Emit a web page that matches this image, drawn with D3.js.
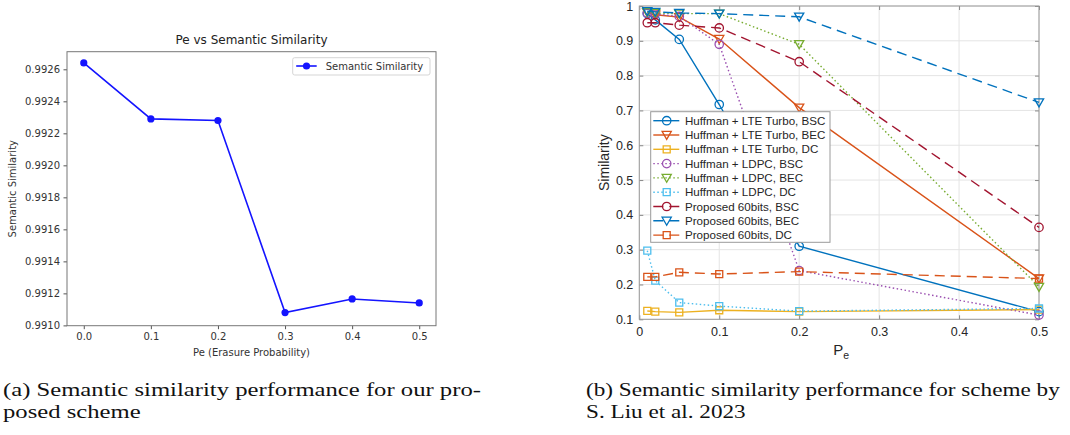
<!DOCTYPE html>
<html>
<head>
<meta charset="utf-8">
<script src="https://cdn.jsdelivr.net/npm/d3@7"></script>
<style>
  body { margin: 0; background: #fff; }
  svg { display: block; }
</style>
</head>
<body>
<svg width="1070" height="435"></svg>
<script>
// ---- (a) our proposed scheme ----
var peA = [0.0, 0.1, 0.2, 0.3, 0.4, 0.5];
var simA = [0.99264, 0.99229, 0.99228, 0.99108, 0.991165, 0.99114];
var xTicksA = [0.0, 0.1, 0.2, 0.3, 0.4, 0.5];
var yTicksA = [0.9910, 0.9912, 0.9914, 0.9916, 0.9918, 0.9920, 0.9922, 0.9924, 0.9926];

// ---- (b) scheme by S. Liu et al. ----
var peB = [0.01, 0.02, 0.05, 0.1, 0.2, 0.5];
var turboBSC = [0.978, 0.960, 0.904, 0.717, 0.310, 0.122];
var turboBEC = [0.982, 0.975, 0.968, 0.905, 0.708, 0.217];
var turboDC  = [0.124, 0.122, 0.120, 0.126, 0.122, 0.128];
var ldpcBSC  = [0.980, 0.977, 0.970, 0.890, 0.240, 0.112];
var ldpcBEC  = [0.982, 0.980, 0.978, 0.978, 0.890, 0.193];
var ldpcDC   = [0.297, 0.211, 0.148, 0.138, 0.1235, 0.131];
var propBSC  = [0.952, 0.952, 0.945, 0.937, 0.840, 0.364];
var propBEC  = [0.985, 0.983, 0.980, 0.978, 0.969, 0.723];
var propDC   = [0.222, 0.222, 0.235, 0.230, 0.237, 0.217];
var seriesNames = ["Huffman + LTE Turbo, BSC", "Huffman + LTE Turbo, BEC", "Huffman + LTE Turbo, DC",
                   "Huffman + LDPC, BSC", "Huffman + LDPC, BEC", "Huffman + LDPC, DC",
                   "Proposed 60bits, BSC", "Proposed 60bits, BEC", "Proposed 60bits, DC"];
var xTicksB = [0, 0.1, 0.2, 0.3, 0.4, 0.5];
var yTicksB = [0.1, 0.2, 0.3, 0.4, 0.5, 0.6, 0.7, 0.8, 0.9, 1];

var captionA = ["(a) Semantic similarity performance for our pro-", "posed scheme"];
var captionB = ["(b) Semantic similarity performance for scheme by", "S. Liu et al. 2023"];

var svg = d3.select("svg");

/* ================= chart (a), matplotlib look ================= */
var fontA = "DejaVu Sans, sans-serif";
var xA = d3.scaleLinear().domain([-0.025, 0.525]).range([67, 436]);
var yA = d3.scaleLinear().domain([0.990998, 0.99271]).range([325.7, 51.7]);
var gA = svg.append("g");

gA.append("g")
    .attr("transform", "translate(0," + yA.range()[0] + ")")
    .call(d3.axisBottom(xA).tickValues(xTicksA).tickFormat(d3.format(".1f")).tickSizeInner(3.5).tickSizeOuter(0).tickPadding(3.5))
    .call(styleAxisA);

gA.append("g")
    .attr("transform", "translate(" + xA.range()[0] + ",0)")
    .call(d3.axisLeft(yA).tickValues(yTicksA).tickFormat(d3.format(".4f")).tickSizeInner(3.5).tickSizeOuter(0).tickPadding(3.5))
    .call(styleAxisA);

function styleAxisA(sel) {
  sel.select(".domain").remove();
  sel.selectAll(".tick line").attr("stroke", "#555");
  sel.selectAll(".tick text").attr("fill", "#333").attr("font-family", fontA).attr("font-size", 10);
}

// frame
gA.append("rect")
    .attr("x", xA.range()[0]).attr("y", yA.range()[1])
    .attr("width", xA.range()[1] - xA.range()[0]).attr("height", yA.range()[0] - yA.range()[1])
    .attr("fill", "none").attr("stroke", "#777").attr("stroke-width", 1);

var lineA = d3.line()
    .x(function(d, i) { return xA(peA[i]); })
    .y(function(d) { return yA(d); });

gA.append("path")
    .datum(simA)
    .attr("fill", "none").attr("stroke", "#1414ff").attr("stroke-width", 1.6)
    .attr("d", lineA);

gA.selectAll(".dotA")
    .data(simA)
  .enter().append("circle")
    .attr("class", "dotA")
    .attr("r", 3.6)
    .attr("cx", function(d, i) { return xA(peA[i]); })
    .attr("cy", function(d) { return yA(d); })
    .attr("fill", "#1414ff");

gA.append("text")
    .attr("x", (xA.range()[0] + xA.range()[1]) / 2).attr("y", 44)
    .attr("text-anchor", "middle").attr("font-family", fontA).attr("font-size", 12).attr("fill", "#222")
    .text("Pe vs Semantic Similarity");

gA.append("text")
    .attr("x", (xA.range()[0] + xA.range()[1]) / 2).attr("y", 355.5)
    .attr("text-anchor", "middle").attr("font-family", fontA).attr("font-size", 10).attr("fill", "#333")
    .text("Pe (Erasure Probability)");

gA.append("text")
    .attr("transform", "translate(16.3," + (yA.range()[0] + yA.range()[1]) / 2 + ") rotate(-90)")
    .attr("text-anchor", "middle").attr("font-family", fontA).attr("font-size", 10).attr("fill", "#333")
    .text("Semantic Similarity");

// legend (a)
var legA = gA.append("g").attr("transform", "translate(292.7,57.7)");
legA.append("rect").attr("width", 137.3).attr("height", 17.3).attr("rx", 2)
    .attr("fill", "#fff").attr("stroke", "#d5d5d5");
legA.append("line").attr("x1", 3.5).attr("x2", 24).attr("y1", 8.3).attr("y2", 8.3)
    .attr("stroke", "#1414ff").attr("stroke-width", 1.6);
legA.append("circle").attr("cx", 13.8).attr("cy", 8.3).attr("r", 3.6).attr("fill", "#1414ff");
legA.append("text").attr("x", 33).attr("y", 12)
    .attr("font-family", fontA).attr("font-size", 10).attr("fill", "#333")
    .text("Semantic Similarity");

/* ================= chart (b), MATLAB look ================= */
var fontB = "Liberation Sans, Arial, Helvetica, sans-serif";
var xB = d3.scaleLinear().domain([0, 0.5]).range([639.3, 1039]);
var yB = d3.scaleLinear().domain([0.1, 1]).range([319.3, 6]);
var gB = svg.append("g");

// grid
gB.append("g").selectAll("line").data(xTicksB).enter().append("line")
    .attr("x1", function(d) { return xB(d); }).attr("x2", function(d) { return xB(d); })
    .attr("y1", yB.range()[0]).attr("y2", yB.range()[1])
    .attr("stroke", "#e4e4e4");
gB.append("g").selectAll("line").data(yTicksB).enter().append("line")
    .attr("y1", function(d) { return yB(d); }).attr("y2", function(d) { return yB(d); })
    .attr("x1", xB.range()[0]).attr("x2", xB.range()[1])
    .attr("stroke", "#e4e4e4");

function styleAxisB(sel) {
  sel.select(".domain").remove();
  sel.selectAll(".tick line").attr("stroke", "#888");
  sel.selectAll(".tick text").attr("fill", "#262626").attr("font-family", fontB).attr("font-size", 12.5);
}
var fmtB = function(d) { return String(d); };

gB.append("g")
    .attr("transform", "translate(0," + yB.range()[0] + ")")
    .call(d3.axisBottom(xB).tickValues(xTicksB).tickFormat(fmtB).tickSizeInner(-4).tickSizeOuter(0).tickPadding(7.5))
    .call(styleAxisB);
gB.append("g")
    .attr("transform", "translate(0," + yB.range()[1] + ")")
    .call(d3.axisTop(xB).tickValues(xTicksB).tickFormat("").tickSizeInner(-4).tickSizeOuter(0))
    .call(styleAxisB);
gB.append("g")
    .attr("transform", "translate(" + xB.range()[0] + ",0)")
    .call(d3.axisLeft(yB).tickValues(yTicksB).tickFormat(fmtB).tickSizeInner(-4).tickSizeOuter(0).tickPadding(6))
    .call(styleAxisB);
gB.append("g")
    .attr("transform", "translate(" + xB.range()[1] + ",0)")
    .call(d3.axisRight(yB).tickValues(yTicksB).tickFormat("").tickSizeInner(-4).tickSizeOuter(0))
    .call(styleAxisB);

gB.append("rect")
    .attr("x", xB.range()[0]).attr("y", yB.range()[1])
    .attr("width", xB.range()[1] - xB.range()[0]).attr("height", yB.range()[0] - yB.range()[1])
    .attr("fill", "none").attr("stroke", "#9a9a9a");

var seriesB = [turboBSC, turboBEC, turboDC, ldpcBSC, ldpcBEC, ldpcDC, propBSC, propBEC, propDC];
var stylesB = [
  { color: "#0072BD", dash: null, marker: "circle" },
  { color: "#D95319", dash: null, marker: "triangle" },
  { color: "#EDB120", dash: null, marker: "square" },
  { color: "#9a4fb0", dash: "1.5,2.5", marker: "circle" },
  { color: "#77AC30", dash: "1.5,2.5", marker: "triangle" },
  { color: "#4DBEEE", dash: "1.5,2.5", marker: "square" },
  { color: "#A2142F", dash: "10,6", marker: "circle" },
  { color: "#0072BD", dash: "10,6", marker: "triangle" },
  { color: "#D95319", dash: "10,6", marker: "square" }
];

function markerPath(type) {
  if (type === "circle") return "M4.2,0A4.2,4.2 0 1,1 -4.2,0A4.2,4.2 0 1,1 4.2,0Z";
  if (type === "triangle") return "M-4.6,-3.6L4.6,-3.6L0,4.4Z";
  return "M-3.5,-3.5L3.5,-3.5L3.5,3.5L-3.5,3.5Z";
}

var lineB = d3.line()
    .x(function(d, i) { return xB(peB[i]); })
    .y(function(d) { return yB(d); });

seriesB.forEach(function(vals, k) {
  var st = stylesB[k];
  var s = gB.append("g");
  s.append("path")
      .datum(vals)
      .attr("fill", "none").attr("stroke", st.color).attr("stroke-width", 1.4)
      .attr("stroke-dasharray", st.dash)
      .attr("d", lineB);
  s.selectAll(".mk")
      .data(vals)
    .enter().append("path")
      .attr("class", "mk")
      .attr("transform", function(d, i) { return "translate(" + xB(peB[i]) + "," + yB(d) + ")"; })
      .attr("d", markerPath(st.marker))
      .attr("fill", "none").attr("stroke", st.color).attr("stroke-width", 1.3);
});

// axis labels (b)
gB.append("text")
    .attr("transform", "translate(609," + (yB.range()[0] + yB.range()[1]) / 2 + ") rotate(-90)")
    .attr("text-anchor", "middle").attr("font-family", fontB).attr("font-size", 14).attr("fill", "#262626")
    .text("Similarity");

var peLabel = gB.append("text")
    .attr("x", (xB.range()[0] + xB.range()[1]) / 2 + 2).attr("y", 355)
    .attr("text-anchor", "middle").attr("font-family", fontB).attr("font-size", 15).attr("fill", "#262626");
peLabel.append("tspan").text("P");
peLabel.append("tspan").attr("dy", 4).attr("font-size", 10.5).text("e");

// legend (b)
var legB = gB.append("g").attr("transform", "translate(650.7,111.7)");
legB.append("rect").attr("width", 179.3).attr("height", 130.6)
    .attr("fill", "#fff").attr("stroke", "#9a9a9a");
seriesNames.forEach(function(name, k) {
  var st = stylesB[k];
  var yy = 9 + k * 14.3;
  legB.append("line").attr("x1", 2.6).attr("x2", 28.6).attr("y1", yy).attr("y2", yy)
      .attr("stroke", st.color).attr("stroke-width", 1.4).attr("stroke-dasharray", st.dash);
  legB.append("path").attr("transform", "translate(16," + yy + ")").attr("d", markerPath(st.marker))
      .attr("fill", "none").attr("stroke", st.color).attr("stroke-width", 1.3);
  legB.append("text").attr("x", 34.3).attr("y", yy + 4.2)
      .attr("font-family", fontB).attr("font-size", 11.6).attr("fill", "#262626")
      .text(name);
});

/* ================= captions ================= */
function caption(lines, x, targetWidth) {
  var g = svg.append("g");
  var t = g.selectAll("text").data(lines).enter().append("text")
      .attr("x", 0).attr("y", function(d, i) { return 396 + i * 22.5; })
      .attr("font-family", "'Liberation Serif', 'Times New Roman', serif")
      .attr("font-size", 18.5).attr("fill", "#111")
      .text(function(d) { return d; });
  var w = t.node().getComputedTextLength();
  g.attr("transform", "translate(" + x + ",0) scale(" + (targetWidth / w) + ",1)");
}
caption(captionA, 3, 478);
caption(captionB, 586, 474);
</script>
</body>
</html>
